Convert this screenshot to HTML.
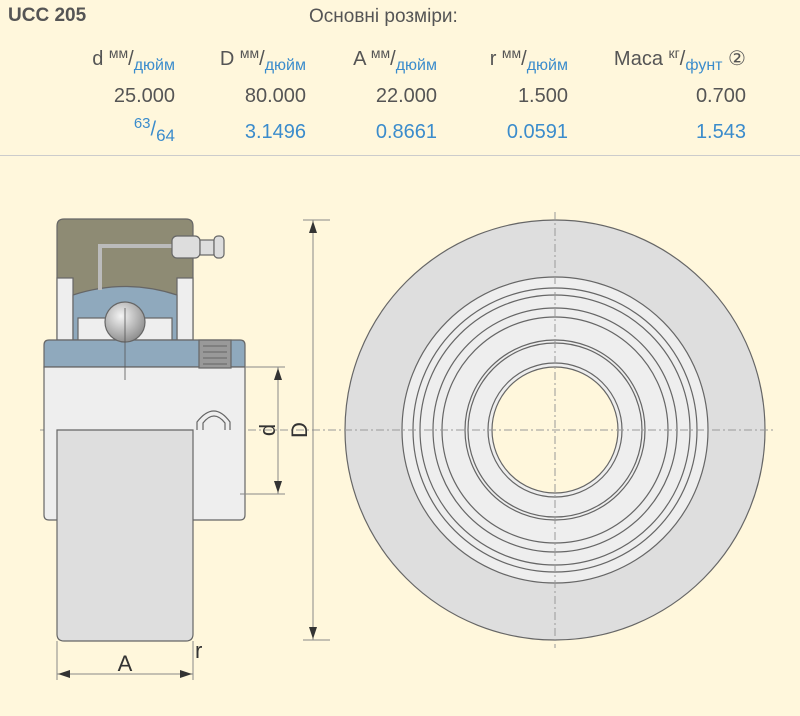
<!DOCTYPE html>
<html><head><meta charset="utf-8"><style>
body{margin:0;width:800px;height:716px;background:#fff7dc;font-family:"Liberation Sans","DejaVu Sans",sans-serif;position:relative;overflow:hidden;color:#555}
.t{position:absolute;white-space:nowrap}
.r{text-align:right;width:160px}
.h{font-size:20px;color:#555}
.h sup{font-size:14px;vertical-align:7px}
.h .s{font-size:16px;color:#3b8ccc;position:relative;top:5px}
.n{font-size:20px}
.b{color:#3b8ccc}
</style></head><body>
<div class="t" style="left:8px;top:5px;font-size:19px;font-weight:bold;color:#555">UCC 205</div>
<div class="t" style="left:309px;top:6px;font-size:19px">Основні розміри:</div>

<div class="t r h" style="left:15px;top:45px">d <sup>мм</sup>/<span class="s">дюйм</span></div>
<div class="t r h" style="left:146px;top:45px">D <sup>мм</sup>/<span class="s">дюйм</span></div>
<div class="t r h" style="left:277px;top:45px">A <sup>мм</sup>/<span class="s">дюйм</span></div>
<div class="t r h" style="left:408px;top:45px">r <sup>мм</sup>/<span class="s">дюйм</span></div>
<div class="t r h" style="left:586px;top:45px">Маса <sup>кг</sup>/<span class="s">фунт</span> ②</div>

<div class="t r n" style="left:15px;top:85px">25.000</div>
<div class="t r n" style="left:146px;top:85px">80.000</div>
<div class="t r n" style="left:277px;top:85px">22.000</div>
<div class="t r n" style="left:408px;top:85px">1.500</div>
<div class="t r n" style="left:586px;top:85px">0.700</div>

<div class="t r n b" style="left:15px;top:115px"><sup style="font-size:15px">63</sup>/<span style="font-size:17px;position:relative;top:5px">64</span></div>
<div class="t r n b" style="left:146px;top:121px">3.1496</div>
<div class="t r n b" style="left:277px;top:121px">0.8661</div>
<div class="t r n b" style="left:408px;top:121px">0.0591</div>
<div class="t r n b" style="left:586px;top:121px">1.543</div>

<div style="position:absolute;left:0;top:155px;width:800px;height:1px;background:#ccc"></div>

<svg width="800" height="716" style="position:absolute;left:0;top:0" xmlns="http://www.w3.org/2000/svg">
<defs><radialGradient id="g" cx="0.4" cy="0.35" r="0.7"><stop offset="0" stop-color="#f4f4f4"/><stop offset="1" stop-color="#8a8a8a"/></radialGradient></defs>
<g stroke="#666" stroke-width="1.2">
<circle cx="555" cy="430" r="210" fill="#dedede"/>
<circle cx="555" cy="430" r="153" fill="#eeeeee"/>
<circle cx="555" cy="430" r="142" fill="none"/>
<circle cx="555" cy="430" r="135" fill="none"/>
<circle cx="555" cy="430" r="122" fill="none"/>
<circle cx="555" cy="430" r="113" fill="none"/>
<circle cx="555" cy="430" r="90" fill="none"/>
<circle cx="555" cy="430" r="87" fill="none"/>
<circle cx="555" cy="430" r="67" fill="none"/>
<circle cx="555" cy="430" r="63" fill="#fff7dc"/>
</g>
<g stroke="#999" stroke-width="1" stroke-dasharray="8,3,2,3" fill="none">
<line x1="555" y1="212" x2="555" y2="648"/>
<line x1="40" y1="430" x2="775" y2="430"/>
</g>
<g stroke="#666" stroke-width="1.2">
<path d="M57 340 V226 Q57 219 64 219 H186 Q193 219 193 226 V340 Z" fill="#8e8b74"/>
<rect x="57" y="278" width="16" height="62" fill="#eee"/>
<rect x="177" y="278" width="16" height="62" fill="#eee"/>
<path d="M73 340 V295 Q125 278 177 295 V340 Z" fill="#8fa9bd"/>
<rect x="78" y="318" width="94" height="22" fill="#eee"/>
<path d="M44 345 Q44 340 49 340 H240 Q245 340 245 345 V367 H44 Z" fill="#8fa9bd"/>
<path d="M44 367 H245 V515 Q245 520 240 520 H49 Q44 520 44 515 Z" fill="#eeeeee"/>
<path d="M57 430 H193 V634 Q193 641 186 641 H64 Q57 641 57 634 Z" fill="#dedede"/>
<path d="M197 430 V422 Q214 400 230 422 V430" fill="none"/>
<path d="M203 430 V423 Q214 409 225 423 V430" fill="none"/>
<rect x="199" y="340" width="32" height="28" fill="#999"/>
<path d="M100 290 V246 H172" fill="none" stroke="#bbb" stroke-width="4"/>
<rect x="172" y="236" width="28" height="22" rx="5" fill="#ddd"/>
<rect x="200" y="240" width="14" height="15" fill="#ddd"/>
<rect x="214" y="236" width="10" height="22" rx="4" fill="#ddd"/>
<circle cx="125" cy="322" r="20" fill="url(#g)"/>
</g>
<g stroke="#555" stroke-width="0.8">
<line x1="125" y1="308" x2="125" y2="380"/>
<line x1="203" y1="346" x2="227" y2="346"/><line x1="203" y1="352" x2="227" y2="352"/><line x1="203" y1="358" x2="227" y2="358"/><line x1="203" y1="364" x2="227" y2="364"/>
</g>
<g stroke="#888" stroke-width="1" fill="none">
<line x1="245" y1="367" x2="285" y2="367"/>
<line x1="240" y1="494" x2="285" y2="494"/>
<line x1="278" y1="367" x2="278" y2="494"/>
<line x1="303" y1="220" x2="330" y2="220"/>
<line x1="303" y1="640" x2="330" y2="640"/>
<line x1="313" y1="220" x2="313" y2="640"/>
<line x1="57" y1="641" x2="57" y2="680"/>
<line x1="193" y1="641" x2="193" y2="680"/>
<line x1="57" y1="674" x2="193" y2="674"/>
</g>
<g fill="#333">
<path d="M278 368 l-4 12 h8 Z"/><path d="M278 493 l-4 -12 h8 Z"/>
<path d="M313 221 l-4 12 h8 Z"/><path d="M313 639 l-4 -12 h8 Z"/>
<path d="M58 674 l12 -4 v8 Z"/><path d="M192 674 l-12 -4 v8 Z"/>
</g>
<g font-family="Liberation Sans, sans-serif" font-size="22" fill="#333">
<text x="125" y="671" text-anchor="middle">A</text>
<text x="195" y="658">r</text>
<text transform="translate(275,430) rotate(-90)" text-anchor="middle">d</text>
<text transform="translate(307,430) rotate(-90)" text-anchor="middle">D</text>
</g>
</svg>
</body></html>
